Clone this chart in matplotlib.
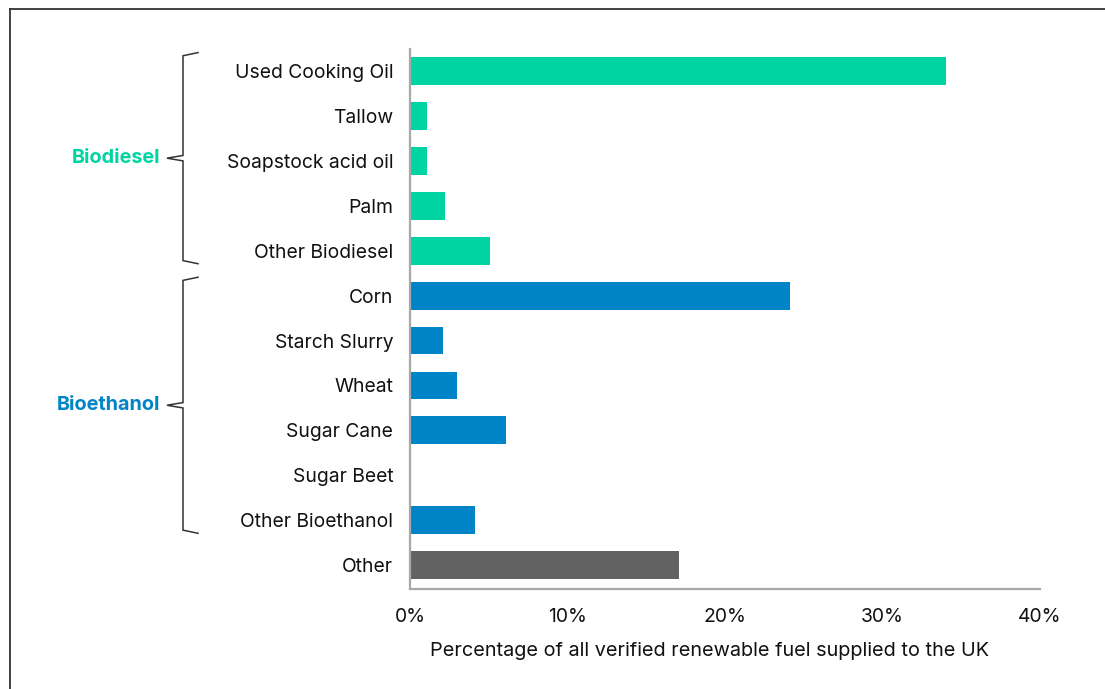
import matplotlib
matplotlib.use("Agg")
import matplotlib.pyplot as plt
from matplotlib.transforms import blended_transform_factory
from matplotlib.lines import Line2D

plt.rcParams['font.family'] = ['Inter', 'DejaVu Sans']

categories = ["Used Cooking Oil", "Tallow", "Soapstock acid oil", "Palm", "Other Biodiesel",
              "Corn", "Starch Slurry", "Wheat", "Sugar Cane", "Sugar Beet", "Other Bioethanol",
              "Other"]
values = [34.0, 1.1, 1.1, 2.2, 5.1,
          24.1, 2.1, 3.0, 6.1, 0.0, 4.1,
          17.1]
groups = ["Biodiesel"] * 5 + ["Bioethanol"] * 6 + ["Other"]
group_names = ["Biodiesel", "Bioethanol"]
x_ticks = [0, 10, 20, 30, 40]
x_tick_labels = ["0%", "10%", "20%", "30%", "40%"]
x_label = "Percentage of all verified renewable fuel supplied to the UK"

colors = {"Biodiesel": "#00D4A2", "Bioethanol": "#0084C8", "Other": "#626262"}

W, H = 1105, 689
FS = 13.9
fig = plt.figure(figsize=(W / 100, H / 100), dpi=100)
ax = fig.add_axes([410 / W, 1 - 589 / H, 630 / W, 540 / H])

ypos = list(range(len(categories)))
ax.barh(ypos, values, height=0.62, color=[colors[g] for g in groups])
ax.set_ylim(len(categories) - 0.47, -0.49)
ax.set_xlim(0, 40)
ax.set_yticks(ypos)
ax.set_yticklabels(categories, fontsize=FS, color="#111111")
ax.set_xticks(x_ticks)
ax.set_xticklabels(x_tick_labels, fontsize=FS, color="#111111")
ax.tick_params(axis="y", length=0, pad=12)
ax.tick_params(axis="x", length=0, pad=13.5)
ax.set_xlabel(x_label, fontsize=FS + 0.4, color="#111111", labelpad=12)
ax.xaxis.label.set_x(0.475)
for side in ("top", "right"):
    ax.spines[side].set_visible(False)
for side in ("left", "bottom"):
    ax.spines[side].set_color("#A8A8A8")
    ax.spines[side].set_linewidth(1.6)

# Curly-bracket style braces grouping the categories
tr = blended_transform_factory(fig.transFigure, ax.transData)
px = lambda x: x / W
slant = 0.07
for name in group_names:
    idx = [i for i, g in enumerate(groups) if g == name]
    top = idx[0] - 0.34
    bot = idx[-1] + 0.22
    mid = (top + bot) / 2
    xs = [px(198), px(183), px(183), px(167), px(183), px(183), px(198)]
    ys = [top - slant, top, mid - 0.06, mid, mid + 0.06, bot, bot + slant]
    fig.add_artist(Line2D(xs, ys, transform=tr, color="#333333", lw=1.1,
                          solid_joinstyle="miter"))
    fig.text(px(160), mid, name, transform=tr, ha="right", va="center",
             fontsize=FS + 0.4, fontweight="bold", color=colors[name])

# Frame lines along the top and left edges
fig.add_artist(Line2D([10 / W, 10 / W], [1 - 9 / H, 0], transform=fig.transFigure,
                      color="#333333", lw=1.3))
fig.add_artist(Line2D([10 / W, 1], [1 - 9 / H, 1 - 9 / H], transform=fig.transFigure,
                      color="#333333", lw=1.3))

fig.savefig("out.png", dpi=100)
